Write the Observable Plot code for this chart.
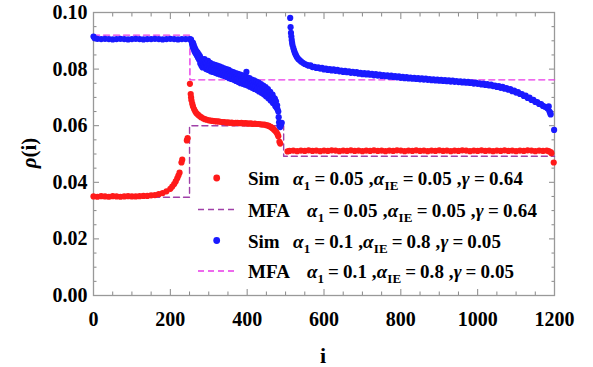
<!DOCTYPE html>
<html><head><meta charset="utf-8">
<script src="https://cdn.jsdelivr.net/npm/d3@7"></script>
<script src="https://cdn.jsdelivr.net/npm/@observablehq/plot@0.6"></script>
<style>body{margin:0;background:#fff}</style>
</head><body><div id="chart"></div><script>
// ---- data ----
const simRed = [
[0,.0350],[10,.0349],[20,.0351],[30,.0350],[40,.0349],[50,.0351],[60,.0350],[70,.0349],[80,.0350],[90,.0351],[100,.0350],[110,.0350],[120,.0351],[130,.0352],[140,.0352],[150,.0354],[160,.0355],[170,.0358],[180,.0362],[190,.0368],[200,.0377],[205,.0385],[210,.0394],[214,.0403],[218,.0414],[221,.0424],[224,.0434],[229,.0470],[231,.0480],[243,.0548],[245,.0556],
[251,.0748],[253,.0712],[254,.0700],[255,.0690],[257,.0678],[259,.0668],[262,.0658],[265,.0650],[268,.0644],[272,.0639],[276,.0634],[280,.0630],[285,.0626],[290,.0623],[295,.0621],[300,.0619],[305,.0618],[310,.0617],[315,.0616],[320,.0615],[325,.0615],[330,.0614],[335,.0613],[340,.0613],[345,.0611],[350,.0612],[355,.0610],[360,.0611],[365,.0609],[370,.0610],[375,.0610],[380,.0609],[385,.0610],[390,.0608],[395,.0609],[400,.0608],[405,.0607],[410,.0608],[415,.0606],[420,.0607],[425,.0606],[430,.0606],[435,.0605],[440,.0604],[445,.0604],[450,.0602],[455,.0600],[458,.0598],[461,.0596],[464,.0593],[467,.0590],[470,.0586],[473,.0582],[476,.0577],[479,.0570],[481,.0563],[484,.0543],[486,.0537],
[505,.0509],[510,.0511],[520,.0512],[530,.0510],[540,.0512],[550,.0511],[560,.0513],[570,.0511],[580,.0512],[590,.0510],[600,.0512],[610,.0511],[620,.0513],[630,.0512],[640,.0510],[650,.0512],[660,.0511],[670,.0513],[680,.0511],[690,.0512],[700,.0510],[710,.0512],[720,.0511],[730,.0513],[740,.0511],[750,.0512],[760,.0510],[770,.0512],[780,.0511],[790,.0513],[800,.0512],[810,.0510],[820,.0512],[830,.0511],[840,.0513],[850,.0511],[860,.0512],[870,.0510],[880,.0512],[890,.0511],[900,.0513],[910,.0511],[920,.0512],[930,.0510],[940,.0512],[950,.0511],[960,.0513],[970,.0512],[980,.0510],[990,.0512],[1000,.0511],[1010,.0513],[1020,.0511],[1030,.0512],[1040,.0510],[1050,.0512],[1060,.0511],[1070,.0513],[1080,.0511],[1090,.0512],[1100,.0510],[1110,.0512],[1120,.0511],[1130,.0513],[1140,.0512],[1150,.0510],[1160,.0512],[1170,.0511],[1180,.0512],[1185,.0510],[1190,.0507],[1192,.0503],[1198,.0470]
];
const simBlue = [
[0,.0915],[3,.0909],[10,.0907],[20,.0906],[30,.0907],[40,.0906],[50,.0905],[60,.0906],[70,.0907],[80,.0906],[90,.0905],[100,.0906],[110,.0907],[120,.0906],[130,.0905],[140,.0906],[150,.0906],[160,.0907],[170,.0906],[180,.0905],[190,.0906],[200,.0907],[210,.0906],[220,.0905],[230,.0906],[240,.0906],[250,.0906],[253,.0905],[254,.0903],
[256,.0895],[257,.0888],[258,.0880],[259,.0893],[260,.0874],[261,.0885],[262,.0866],[263,.0877],[264,.0860],[265,.0871],[266,.0855],[268,.0864],[269,.0848],[271,.0858],[272,.0840],[274,.0852],[275,.0833],[277,.0846],[278,.0820],[280,.0838],[281,.0812],[283,.0830],[284,.0806],[286,.0826],[287,.0815],[289,.0835],[290,.0808],[292,.0822],[293,.0800],[295,.0818],[296,.0806],[298,.0829],[299,.0797],[301,.0815],[302,.0803],[304,.0822],[305,.0792],[307,.0812],[308,.0800],[310,.0818],[311,.0790],[313,.0808],[314,.0797],[316,.0815],[317,.0787],[319,.0805],[320,.0795],[322,.0812],[323,.0784],[325,.0802],[326,.0791],[328,.0810],[329,.0781],[331,.0799],[332,.0788],[334,.0806],[335,.0778],[337,.0796],[338,.0785],[340,.0803],[341,.0776],[343,.0793],[344,.0782],[346,.0800],[347,.0772],[349,.0790],[350,.0779],[352,.0797],[353,.0768],[355,.0787],[356,.0775],[358,.0792],[359,.0765],[361,.0783],[362,.0772],[364,.0789],[365,.0762],[367,.0780],[368,.0769],[370,.0786],[371,.0758],[373,.0776],[374,.0766],[376,.0783],[377,.0754],[379,.0773],[380,.0763],[382,.0781],[383,.0750],[385,.0770],[386,.0760],[388,.0778],[389,.0748],[391,.0767],[392,.0757],[394,.0776],[395,.0745],[397,.0764],[398,.0790],[400,.0771],[401,.0742],[403,.0760],[404,.0750],[406,.0768],[407,.0738],[409,.0757],[410,.0746],[412,.0763],[413,.0734],[415,.0753],[416,.0742],[418,.0760],[419,.0730],[421,.0749],[422,.0738],[424,.0756],[425,.0726],[427,.0745],[428,.0733],[430,.0752],[431,.0721],[433,.0740],[434,.0729],[436,.0747],[437,.0716],[439,.0735],[440,.0723],[442,.0742],[443,.0711],[445,.0730],[446,.0718],[448,.0736],[449,.0704],[451,.0724],[452,.0711],[454,.0729],[455,.0697],[457,.0716],[458,.0703],[460,.0720],[461,.0689],[463,.0707],[464,.0694],[466,.0710],[467,.0680],[469,.0698],[470,.0684],[472,.0696],[473,.0670],[475,.0686],[476,.0664],[478,.0672],[479,.0658],[481,.0650],[482,.0630],[483,.0612],[484,.0600],[486,.0595],[488,.0603],[490,.0610],
[512,.0981],[513,.0948],[514,.0928],[515,.0915],[516,.0903],[517,.0893],[518,.0885],[520,.0875],[522,.0866],[524,.0858],[526,.0852],[528,.0846],[530,.0841],[533,.0836],[536,.0832],[540,.0827],[545,.0822],[550,.0818],[555,.0815],[560,.0812],[565,.0813],[570,.0807],[575,.0808],[580,.0804],[585,.0806],[590,.0802],[595,.0804],[600,.0799],[605,.0802],[610,.0797],[615,.0800],[620,.0795],[625,.0799],[630,.0794],[635,.0797],[640,.0792],[645,.0795],[650,.0790],[655,.0794],[660,.0789],[665,.0792],[670,.0787],[675,.0790],[680,.0786],[685,.0789],[690,.0784],[695,.0787],[700,.0782],[705,.0786],[710,.0781],[715,.0785],[720,.0780],[725,.0783],[730,.0778],[735,.0782],[740,.0777],[745,.0781],[750,.0776],[755,.0779],[760,.0775],[765,.0778],[770,.0773],[775,.0777],[780,.0772],[785,.0775],[790,.0771],[795,.0774],[800,.0769],[805,.0773],[810,.0768],[815,.0772],[820,.0767],[825,.0770],[830,.0766],[835,.0769],[840,.0765],[845,.0768],[850,.0764],[855,.0767],[860,.0763],[865,.0766],[870,.0762],[875,.0765],[880,.0761],[885,.0764],[890,.0760],[895,.0763],[900,.0759],[905,.0762],[910,.0758],[915,.0761],[920,.0757],[925,.0760],[930,.0756],[935,.0759],[940,.0755],[945,.0758],[950,.0754],[955,.0757],[960,.0753],[965,.0756],[970,.0752],[975,.0755],[980,.0751],[985,.0753],[990,.0749],[995,.0752],[1000,.0748],[1005,.0750],[1010,.0746],[1015,.0749],[1020,.0744],[1025,.0747],[1030,.0742],[1035,.0745],[1040,.0740],[1045,.0742],[1050,.0737],[1055,.0740],[1060,.0734],[1065,.0737],[1070,.0731],[1075,.0733],[1080,.0727],[1085,.0729],[1090,.0722],[1095,.0724],[1100,.0717],[1105,.0719],[1110,.0712],[1115,.0712],[1120,.0705],[1125,.0706],[1130,.0698],[1135,.0699],[1140,.0691],[1145,.0691],[1150,.0684],[1155,.0683],[1160,.0677],[1165,.0676],[1170,.0670],[1175,.0667],[1180,.0663],[1183,.0660],[1185,.0668],[1187,.0650],[1189,.0645],[1190,.0640],[1199,.0585]
];
const mfaRed = [[0,.0347],[250,.0347],[250,.0600],[495,.0600],[495,.0492],[1200,.0492]];
const mfaBlue = [[0,.0920],[251,.0920],[251,.0762],[1200,.0762]];
const xMajor = [0,200,400,600,800,1000,1200];
const xMinor = [50,100,150,250,300,350,450,500,550,650,700,750,850,900,950,1050,1100,1150];
const yMajor = [0,0.02,0.04,0.06,0.08,0.10];
const yMinor = [0.005,0.01,0.015,0.025,0.03,0.035,0.045,0.05,0.055,0.065,0.07,0.075,0.085,0.09,0.095];
const legendRows = [
  {kind:"dot", color:"#ff1a1a", name:"Sim", a1:"0.05", aIE:"0.05", g:"0.64"},
  {kind:"line", color:"#a040a8", name:"MFA", a1:"0.05", aIE:"0.05", g:"0.64"},
  {kind:"dot", color:"#1a1aff", name:"Sim", a1:"0.1", aIE:"0.8", g:"0.05"},
  {kind:"line", color:"#e838e8", name:"MFA", a1:"0.1", aIE:"0.8", g:"0.05"}
];

const FONT = "Liberation Serif, DejaVu Serif, serif";
const tickStroke = "#888";
const chart = Plot.plot({
  width: 593, height: 367,
  marginLeft: 93, marginRight: 39, marginTop: 12, marginBottom: 72,
  style: {fontFamily: FONT, fontWeight: "bold", background: "#fff", color: "#000"},
  x: {domain: [0, 1200], label: null},
  y: {domain: [0, 0.1], label: null},
  marks: [
    Plot.axisX(xMajor, {anchor: "bottom", tickSize: 0, tickPadding: 16, fontSize: 20, fontWeight: "bold", tickFormat: d3.format("d"), label: null}),
    Plot.axisY(yMajor, {anchor: "left", tickSize: 0, tickPadding: 6, fontSize: 20, fontWeight: "bold", tickFormat: d => d.toFixed(2), label: null}),
    Plot.axisX(xMajor, {anchor: "bottom", tickSize: -6, text: null, label: null, stroke: tickStroke}),
    Plot.axisX(xMinor, {anchor: "bottom", tickSize: -3.5, text: null, label: null, stroke: tickStroke}),
    Plot.axisX(xMajor, {anchor: "top", tickSize: -6, text: null, label: null, stroke: tickStroke}),
    Plot.axisX(xMinor, {anchor: "top", tickSize: -3.5, text: null, label: null, stroke: tickStroke}),
    Plot.axisY(yMajor, {anchor: "left", tickSize: -6, text: null, label: null, stroke: tickStroke}),
    Plot.axisY(yMinor, {anchor: "left", tickSize: -3.5, text: null, label: null, stroke: tickStroke}),
    Plot.axisY(yMajor, {anchor: "right", tickSize: -6, text: null, label: null, stroke: tickStroke}),
    Plot.axisY(yMinor, {anchor: "right", tickSize: -3.5, text: null, label: null, stroke: tickStroke}),
    Plot.frame({stroke: "#999", strokeWidth: 1.3}),
    Plot.line(mfaRed, {x: d => d[0], y: d => d[1], stroke: "#a040a8", strokeWidth: 1.4, strokeDasharray: "6,4"}),
    Plot.line(mfaBlue, {x: d => d[0], y: d => d[1], stroke: "#e838e8", strokeWidth: 1.4, strokeDasharray: "6,4"}),
    Plot.dot(simRed, {x: d => d[0], y: d => d[1], r: 3.1, fill: "#ff1a1a", stroke: null}),
    Plot.dot(simBlue, {x: d => d[0], y: d => d[1], r: 3.1, fill: "#1a1aff", stroke: null})
  ]
});
document.getElementById("chart").append(chart);

// axis titles and legend
const svg = d3.select(chart);
const yl = svg.append("text").attr("transform", "translate(36,153) rotate(-90)")
  .attr("text-anchor", "middle").attr("font-family", FONT).attr("font-weight", "bold").attr("font-size", 21);
yl.append("tspan").attr("font-style", "italic").text("ρ");
yl.append("tspan").text("(i)");
svg.append("text").attr("x", 323).attr("y", 363).attr("text-anchor", "middle")
  .attr("font-family", FONT).attr("font-weight", "bold").attr("font-size", 22).text("i");

const rowY = [178, 209.5, 240.5, 271];
const formulaX = [293, 307, 293, 307];
const formulaW = [230, 230, 208, 207];
legendRows.forEach((r, k) => {
  const y = rowY[k];
  const g = svg.append("g").attr("font-family", FONT).attr("font-weight", "bold").attr("text-anchor", "start");
  if (r.kind === "dot") g.append("circle").attr("cx", 216.7).attr("cy", y).attr("r", 3.4).attr("fill", r.color);
  else g.append("line").attr("x1", 198).attr("x2", 236).attr("y1", y).attr("y2", y)
        .attr("stroke", r.color).attr("stroke-width", 1.4).attr("stroke-dasharray", "6,4");
  g.append("text").attr("x", 248).attr("y", y + 7).attr("font-size", 19).attr("text-anchor", "start").text(r.name);
  const t = g.append("text").attr("x", formulaX[k]).attr("y", y + 7).attr("font-size", 19).attr("text-anchor", "start")
    .attr("textLength", formulaW[k]).attr("lengthAdjust", "spacing");
  t.append("tspan").attr("font-style", "italic").text("α");
  t.append("tspan").attr("font-size", 13).attr("dy", 5).text("1");
  t.append("tspan").attr("dy", -5).text("\u2009=\u2009" + r.a1 + " ,");
  t.append("tspan").attr("font-style", "italic").text("α");
  t.append("tspan").attr("font-size", 13).attr("dy", 5).text("IE");
  t.append("tspan").attr("dy", -5).text("\u2009=\u2009" + r.aIE + " ,");
  t.append("tspan").attr("font-style", "italic").text("γ");
  t.append("tspan").text("\u2009=\u2009" + r.g);
});
</script></body></html>
